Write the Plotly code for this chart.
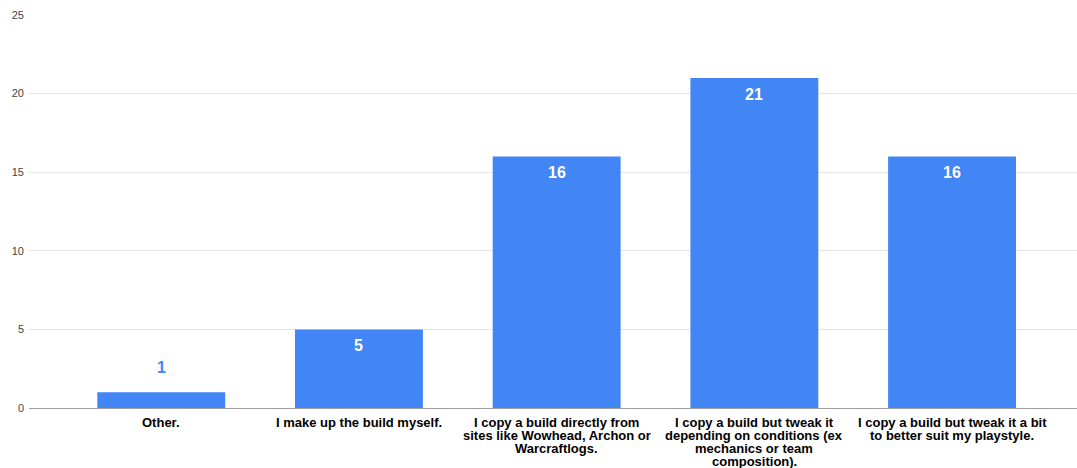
import plotly.graph_objects as go

categories = [
    "Other.",
    "I make up the build myself.",
    "I copy a build directly from<br>sites like Wowhead, Archon or<br>Warcraftlogs.",
    "I copy a build but tweak it<br>depending on conditions (ex<br>mechanics or team<br>composition).",
    "I copy a build but tweak it a bit<br>to better suit my playstyle.",
]
counts = [1, 5, 16, 21, 16]
y_ticks = [0, 5, 10, 15, 20, 25]

BLUE = "#4285F4"
FONT = "Liberation Sans, Arial, sans-serif"

idx = list(range(len(categories)))

fig = go.Figure(
    go.Bar(
        x=idx,
        y=counts,
        marker=dict(color=BLUE, line=dict(width=0)),
        hoverinfo="skip",
    )
)

annotations = []

# value labels: white inside tall bars, blue above short ones
for i, v in zip(idx, counts):
    if v >= 3:
        annotations.append(dict(
            x=i, y=v, text=f"<b>{v}</b>", showarrow=False,
            yanchor="top", yshift=-6,
            font=dict(family=FONT, size=16, color="white"),
        ))
    else:
        annotations.append(dict(
            x=i, y=v, text=f"<b>{v}</b>", showarrow=False,
            yanchor="bottom", yshift=14,
            font=dict(family=FONT, size=16, color=BLUE),
        ))

# category labels under the axis, one line at a time for tight line spacing
LINE_STEP = 13
for i, cat in zip(idx, categories):
    for k, line in enumerate(cat.split("<br>")):
        annotations.append(dict(
            x=i, y=0, text=f"<b>{line}</b>", showarrow=False,
            xanchor="center", yanchor="middle",
            yshift=-(14 + k * LINE_STEP),
            font=dict(family=FONT, size=13, color="#000000"),
        ))

fig.update_layout(
    width=1077,
    height=468,
    margin=dict(l=29, r=0, t=15, b=60),
    paper_bgcolor="white",
    plot_bgcolor="white",
    bargap=0.353,
    showlegend=False,
    annotations=annotations,
    font=dict(family=FONT),
)

fig.update_xaxes(
    tickvals=idx,
    showticklabels=False,
    range=[-0.669, 4.632],
    showgrid=False,
    zeroline=False,
    showline=False,
    ticks="",
    automargin=False,
    fixedrange=True,
)

fig.update_yaxes(
    range=[0, 25],
    tickvals=y_ticks,
    showgrid=True,
    gridcolor="#e5e5e5",
    gridwidth=1,
    zeroline=True,
    zerolinecolor="#9e9e9e",
    zerolinewidth=1,
    showline=False,
    ticks="",
    ticklabelstandoff=4,
    automargin=False,
    tickfont=dict(family=FONT, size=11, color="#444444"),
    fixedrange=True,
)

fig.write_html("out.html", config={"displayModeBar": False})
